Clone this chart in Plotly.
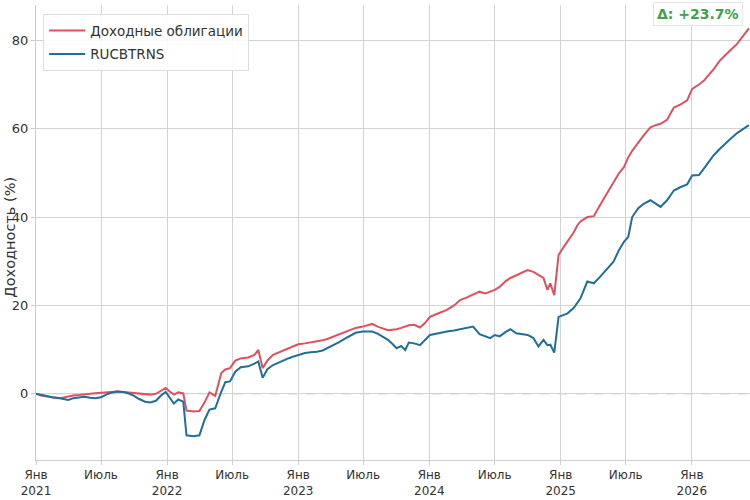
import plotly.graph_objects as go

dates = [
    "2021-01-01","2021-01-15","2021-02-01","2021-02-15","2021-03-01","2021-03-15","2021-04-01","2021-04-15",
    "2021-05-01","2021-05-15","2021-06-01","2021-06-15","2021-07-01","2021-07-15","2021-08-01","2021-08-15",
    "2021-09-01","2021-09-15","2021-10-01","2021-10-15","2021-11-01","2021-11-15","2021-12-01","2021-12-15",
    "2021-12-28","2022-01-10","2022-01-20","2022-02-01","2022-02-15","2022-02-24","2022-03-15","2022-04-01",
    "2022-04-15","2022-04-29","2022-05-15","2022-06-01","2022-06-12","2022-06-25","2022-07-10","2022-07-25",
    "2022-08-15","2022-09-01","2022-09-12","2022-09-24","2022-10-08","2022-10-23","2022-11-10","2022-12-01",
    "2022-12-15","2023-01-01","2023-01-20","2023-02-05","2023-02-22","2023-03-10","2023-03-23","2023-04-10",
    "2023-04-25","2023-05-10","2023-05-25","2023-06-10","2023-06-30","2023-07-15","2023-07-26","2023-08-10",
    "2023-08-25","2023-09-08","2023-09-20","2023-10-02","2023-10-15","2023-10-26","2023-11-05","2023-11-20",
    "2023-12-06","2023-12-20","2024-01-03","2024-01-20","2024-02-05","2024-02-19","2024-03-10","2024-03-27",
    "2024-04-15","2024-05-02","2024-05-20","2024-06-05","2024-06-19","2024-07-01","2024-07-15","2024-08-01",
    "2024-08-14","2024-08-30","2024-09-15","2024-10-01","2024-10-17","2024-10-31","2024-11-14","2024-11-25",
    "2024-12-03","2024-12-14","2024-12-26","2025-01-09","2025-01-20","2025-02-06","2025-02-16","2025-02-25",
    "2025-03-16","2025-04-03","2025-04-21","2025-05-11","2025-05-28","2025-06-12","2025-06-26","2025-07-08",
    "2025-07-19","2025-08-05","2025-08-20","2025-09-08","2025-09-22","2025-10-06","2025-10-24","2025-11-12",
    "2025-12-01","2025-12-19","2026-01-02","2026-01-21","2026-02-04","2026-02-13","2026-03-03","2026-03-21",
    "2026-04-09","2026-04-19","2026-05-07","2026-05-17","2026-06-09",
]

income_bonds = [
    0.0,-0.4,-0.6,-0.8,-1.0,-0.9,-0.6,-0.4,
    -0.3,-0.1,0.0,0.1,0.2,0.3,0.5,0.5,
    0.4,0.3,0.1,0.0,-0.1,-0.2,0.0,0.6,
    1.3,0.4,-0.2,0.3,0.1,-3.8,-4.0,-3.9,
    -2.0,0.3,-0.5,4.7,5.5,5.8,7.5,8.0,
    8.2,8.8,9.9,5.8,7.6,8.8,9.4,10.0,
    10.5,11.2,11.4,11.6,11.8,12.1,12.4,13.0,
    13.5,14.0,14.5,14.9,15.2,15.5,15.8,15.2,
    14.7,14.4,14.5,14.6,14.9,15.2,15.5,15.6,
    15.0,16.0,17.4,18.0,18.5,19.0,20.0,21.2,
    21.8,22.5,23.1,22.7,23.2,23.5,24.2,25.5,
    26.2,26.8,27.5,28.0,27.6,26.8,26.2,23.5,
    25.0,22.3,31.4,33.2,34.5,36.5,38.1,39.0,
    40.0,40.2,42.8,45.5,47.6,49.9,51.3,53.5,
    55.0,57.0,58.5,60.3,60.8,61.1,62.0,64.8,
    65.5,66.4,69.0,70.0,70.9,71.8,73.5,75.5,
    76.9,77.8,79.2,80.2,82.7,
]

rucbtrns = [
    0.0,-0.3,-0.6,-0.8,-0.9,-1.2,-1.4,-1.0,
    -0.8,-0.7,-0.9,-1.0,-0.8,-0.2,0.3,0.5,
    0.4,0.1,-0.5,-1.2,-1.8,-2.0,-1.6,-0.4,
    0.4,-1.0,-2.2,-1.3,-1.8,-9.4,-9.6,-9.4,
    -6.0,-3.6,-3.3,0.5,2.6,2.8,5.0,6.0,
    6.2,6.8,7.3,3.6,5.6,6.5,7.2,7.9,
    8.3,8.8,9.2,9.4,9.5,9.8,10.3,11.0,
    11.7,12.4,13.1,13.8,14.1,14.1,14.1,13.6,
    12.8,12.2,11.3,10.3,10.8,9.9,11.6,11.4,
    11.0,12.2,13.3,13.6,13.9,14.1,14.3,14.6,
    14.9,15.2,13.5,13.0,12.6,13.3,13.0,14.0,
    14.6,13.7,13.5,13.3,12.6,10.7,12.2,11.0,
    11.1,9.3,17.4,17.8,18.2,19.4,20.5,21.6,
    25.4,25.0,26.5,28.4,29.9,32.5,34.4,35.5,
    40.0,42.0,43.0,43.8,43.0,42.3,43.8,46.0,
    46.8,47.4,49.4,49.5,51.0,52.1,54.0,55.5,
    56.8,57.7,59.0,59.6,60.8,
]

series_names = ["Доходные облигации", "RUCBTRNS"]
series_colors = ["#E0505F", "#1F6F98"]

tick_vals = ["2021-01-01","2021-07-01","2022-01-01","2022-07-01","2023-01-01","2023-07-01",
             "2024-01-01","2024-07-01","2025-01-01","2025-07-01","2026-01-01"]
tick_text = ["Янв<br>2021","Июль","Янв<br>2022","Июль","Янв<br>2023","Июль",
             "Янв<br>2024","Июль","Янв<br>2025","Июль","Янв<br>2026"]

y_title = "Доходность (%)"
delta_text = "Δ: +23.7%"

fig = go.Figure()
for i, (name, vals, col) in enumerate(zip(series_names, [income_bonds, rucbtrns], series_colors)):
    fig.add_trace(go.Scatter(x=dates, y=vals, mode="lines", name=name, legendgroup=f"g{i}",
                             line=dict(color=col, width=2)))

fig.add_hline(y=0, line=dict(color="#aaaaaa", width=1, dash="dash"), layer="below")

fig.update_layout(
    width=750, height=500,
    margin=dict(l=36, r=0, t=5, b=40),
    paper_bgcolor="white", plot_bgcolor="white",
    font=dict(family="DejaVu Sans", size=12, color="#333333"),
    legend=dict(x=0.01, y=0.98, xanchor="left", yanchor="top",
                bgcolor="rgba(255,255,255,0.9)", bordercolor="#dddddd", borderwidth=1,
                font=dict(size=13.5, color="#333333"), itemwidth=36, tracegroupgap=3),
    showlegend=True,
    annotations=[
        dict(text="<b>" + delta_text + "</b>", xref="paper", yref="paper",
             x=0.99, y=1.006, xanchor="right", yanchor="top", showarrow=False,
             font=dict(size=14, color="#3BA34A"), bgcolor="white",
             bordercolor="#e6e6e6", borderwidth=1, borderpad=3),
        dict(text=y_title, xref="paper", yref="paper", x=-0.037, y=0.49,
             xanchor="center", yanchor="middle", textangle=-90, showarrow=False,
             font=dict(size=14.5, color="#333333")),
    ],
)
fig.update_xaxes(range=["2021-01-01", "2026-06-12"], tickvals=tick_vals, ticktext=tick_text,
                 showgrid=True, gridcolor="#d3d3d3", gridwidth=1,
                 showline=True, linecolor="#cccccc", ticks="outside", ticklen=4,
                 tickcolor="#cccccc", tickfont=dict(size=12, color="#333333"), zeroline=False)
fig.update_yaxes(range=[-15, 88], tickvals=[0, 20, 40, 60, 80],
                 showgrid=True, gridcolor="#d3d3d3", gridwidth=1,
                 showline=True, linecolor="#cccccc", ticks="outside", ticklen=4,
                 tickcolor="#cccccc", tickfont=dict(size=13, color="#333333"), zeroline=False)

fig.write_html("out.html")
